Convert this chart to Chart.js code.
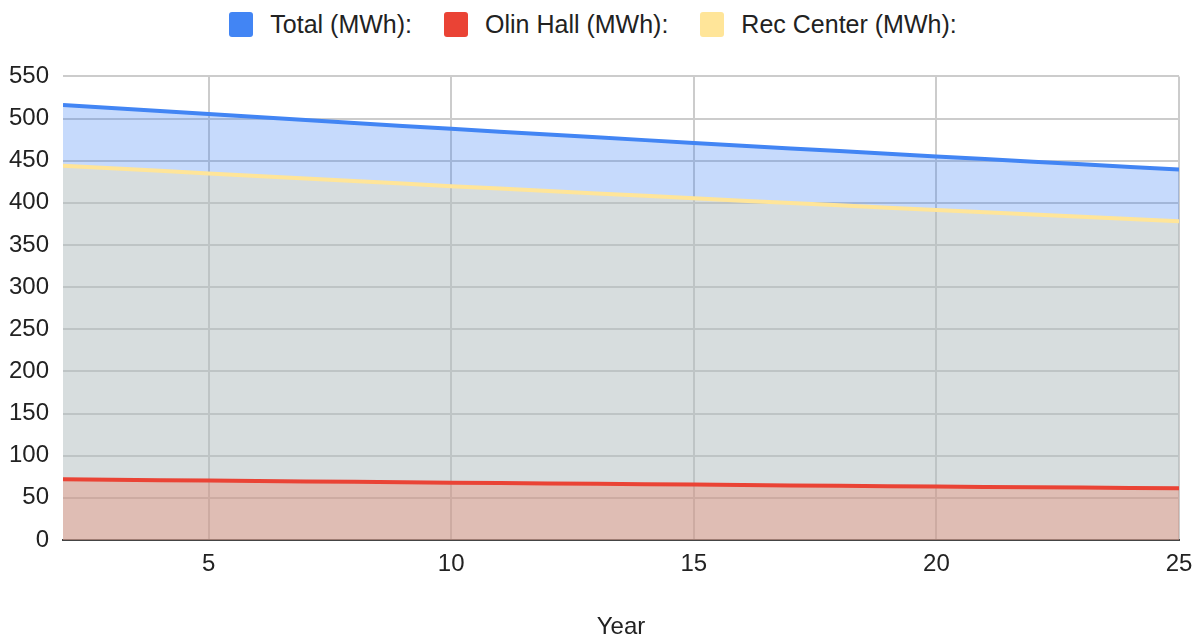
<!DOCTYPE html>
<html>
<head>
<meta charset="utf-8">
<script src="https://cdn.jsdelivr.net/npm/chart.js@4.4.1/dist/chart.umd.min.js"></script>
<style>
  html, body { margin: 0; padding: 0; background: #ffffff; }
  #wrap { width: 1203px; height: 636px; position: relative; }
  #legend {
    height: 48px;
    display: flex;
    justify-content: center;
    align-items: center;
    padding-right: 17px;
    box-sizing: border-box;
    font-family: "Liberation Sans", Arial, sans-serif;
    font-size: 25px;
    color: #222222;
  }
  #legend .item { display: flex; align-items: center; margin: 0 16px; white-space: nowrap; }
  #legend .swatch { width: 24px; height: 25px; border-radius: 3px; margin-right: 17px; }
  #chart { display: block; }
</style>
</head>
<body>
<div id="wrap">
  <div id="legend"></div>
  <canvas id="chart" width="1203" height="588"></canvas>
</div>
<script>
// Years covered by the projection
const years = [2, 3, 4, 5, 6, 7, 8, 9, 10, 11, 12, 13, 14, 15, 16, 17, 18, 19, 20, 21, 22, 23, 24, 25];

// Annual energy use, MWh
const totalMWh = [516.0, 512.5, 509.0, 505.3, 501.8, 498.3, 494.8, 491.3, 487.8, 484.4, 481.0, 477.7, 474.4, 471.1, 467.8, 464.6, 461.4, 458.2, 455.0, 451.9, 448.8, 445.7, 442.6, 439.5];
const olinHallMWh = [72.0, 71.5, 71.0, 70.5, 70.0, 69.5, 69.0, 68.5, 68.0, 67.5, 67.0, 66.6, 66.1, 65.7, 65.2, 64.8, 64.3, 63.9, 63.5, 63.0, 62.6, 62.2, 61.8, 61.4];
const recCenterMWh = [444.0, 441.0, 438.0, 434.8, 431.8, 428.8, 425.8, 422.8, 419.8, 416.9, 414.0, 411.1, 408.3, 405.4, 402.6, 399.8, 397.1, 394.3, 391.5, 388.9, 386.2, 383.5, 380.8, 378.1];

// Axis ticks
const xTicks = [5, 10, 15, 20, 25];
const yTicks = [0, 50, 100, 150, 200, 250, 300, 350, 400, 450, 500, 550];

const seriesNames = ['Total (MWh):', 'Olin Hall (MWh):', 'Rec Center (MWh):'];
const seriesColors = ['#4285f4', '#ea4335', '#ffe599'];
const seriesFills = ['rgba(66,133,244,0.3)', 'rgba(234,67,53,0.3)', 'rgba(255,229,153,0.3)'];

const FONT = '"Liberation Sans", Arial, sans-serif';
const TEXT = '#222222';

function pts(values) {
  return years.map((y, i) => ({ x: y, y: values[i] }));
}

const seriesValues = [totalMWh, olinHallMWh, recCenterMWh];
const datasets = seriesValues.map((vals, i) => ({
  label: seriesNames[i],
  data: pts(vals),
  borderColor: seriesColors[i],
  backgroundColor: seriesFills[i],
  borderWidth: 4,
  pointRadius: 0,
  pointHoverRadius: 0,
  tension: 0,
  fill: 'origin',
  // fills are painted total first, then Olin Hall, then Rec Center
  order: 2 - i
}));

const chart = new Chart(document.getElementById('chart'), {
  type: 'line',
  data: { datasets },
  options: {
    responsive: false,
    animation: false,
    layout: { padding: { top: 28, right: 24, bottom: 0, left: 0 } },
    plugins: {
      filler: { drawTime: 'beforeDatasetsDraw' },
      tooltip: { enabled: false },
      legend: { display: false }
    },
    scales: {
      x: {
        type: 'linear',
        min: 2,
        max: 25,
        afterBuildTicks: (scale) => { scale.ticks = xTicks.map(v => ({ value: v })); },
        afterFit: (scale) => { scale.height = 96; },
        ticks: {
          font: { family: FONT, size: 24 },
          color: TEXT,
          padding: 10,
          maxRotation: 0
        },
        grid: { color: '#cccccc', lineWidth: 2, drawTicks: false },
        border: { display: true, color: '#444444', width: 2 },
        title: {
          display: true,
          text: 'Year',
          font: { family: FONT, size: 24 },
          color: TEXT,
          padding: { top: 0, bottom: -6 }
        }
      },
      y: {
        type: 'linear',
        min: 0,
        max: 550,
        afterBuildTicks: (scale) => { scale.ticks = yTicks.map(v => ({ value: v })); },
        afterFit: (scale) => { scale.width = 63; },
        ticks: {
          font: { family: FONT, size: 24 },
          color: TEXT,
          padding: 14
        },
        grid: { color: '#cccccc', lineWidth: 2, drawTicks: false },
        border: { display: false }
      }
    }
  }
});

// Legend row built from the chart's own datasets
const legendEl = document.getElementById('legend');
chart.data.datasets.forEach((ds) => {
  const item = document.createElement('div');
  item.className = 'item';
  const sw = document.createElement('span');
  sw.className = 'swatch';
  sw.style.background = ds.borderColor;
  const label = document.createElement('span');
  label.textContent = ds.label;
  item.appendChild(sw);
  item.appendChild(label);
  legendEl.appendChild(item);
});
</script>
</body>
</html>
